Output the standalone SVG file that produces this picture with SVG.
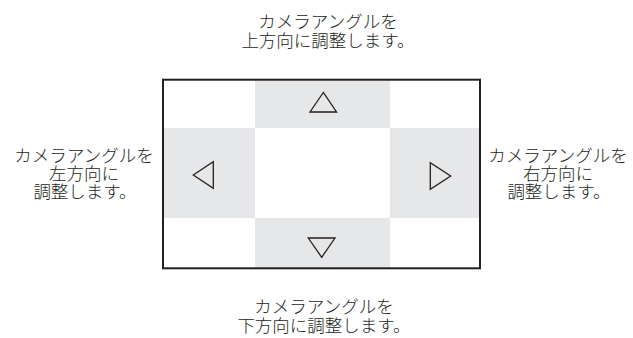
<svg xmlns="http://www.w3.org/2000/svg" width="633" height="338" viewBox="0 0 633 338">
<style>
.t{font-family:"Noto Sans CJK JP","Noto Sans",sans-serif;font-size:17.5px;font-weight:300;fill:#231f20;text-anchor:middle}
.cell{fill:#e6e7e8}
.tri{fill:none;stroke:#231f20;stroke-width:1.3;stroke-linejoin:miter}
</style>
<rect width="633" height="338" fill="#ffffff"/>
<g id="panel">
<rect class="cell" x="255" y="80" width="135" height="48"/>
<rect class="cell" x="163" y="128" width="92" height="90"/>
<rect class="cell" x="390" y="128" width="90" height="90"/>
<rect class="cell" x="255" y="218" width="135" height="50"/>
<rect x="163" y="79.7" width="317" height="188.6" fill="none" stroke="#231f20" stroke-width="2"/>
</g>
<g id="btn-up"><polygon class="tri" points="323.3,92.5 310,112 336.6,112"/></g>
<g id="btn-left"><polygon class="tri" points="193.3,175 213.3,161.7 213.3,188.3"/></g>
<g id="btn-right"><polygon class="tri" points="450.7,176 430.3,162.7 430.3,189.3"/></g>
<g id="btn-down"><polygon class="tri" points="308.3,238 335,238 321.7,257.3"/></g>
<g id="connectors"></g>
<g id="label-up"><text class="t" x="328" y="27.5">カメラアングルを</text><text class="t" x="328" y="47">上方向に調整します。</text></g>
<g id="label-left"><text class="t" x="84" y="162">カメラアングルを</text><text class="t" x="84" y="180">左方向に</text><text class="t" x="85" y="198">調整します。</text></g>
<g id="label-right"><text class="t" x="558" y="162">カメラアングルを</text><text class="t" x="558" y="180">右方向に</text><text class="t" x="559" y="198">調整します。</text></g>
<g id="label-down"><text class="t" x="324" y="312.5">カメラアングルを</text><text class="t" x="324" y="332">下方向に調整します。</text></g>
</svg>
